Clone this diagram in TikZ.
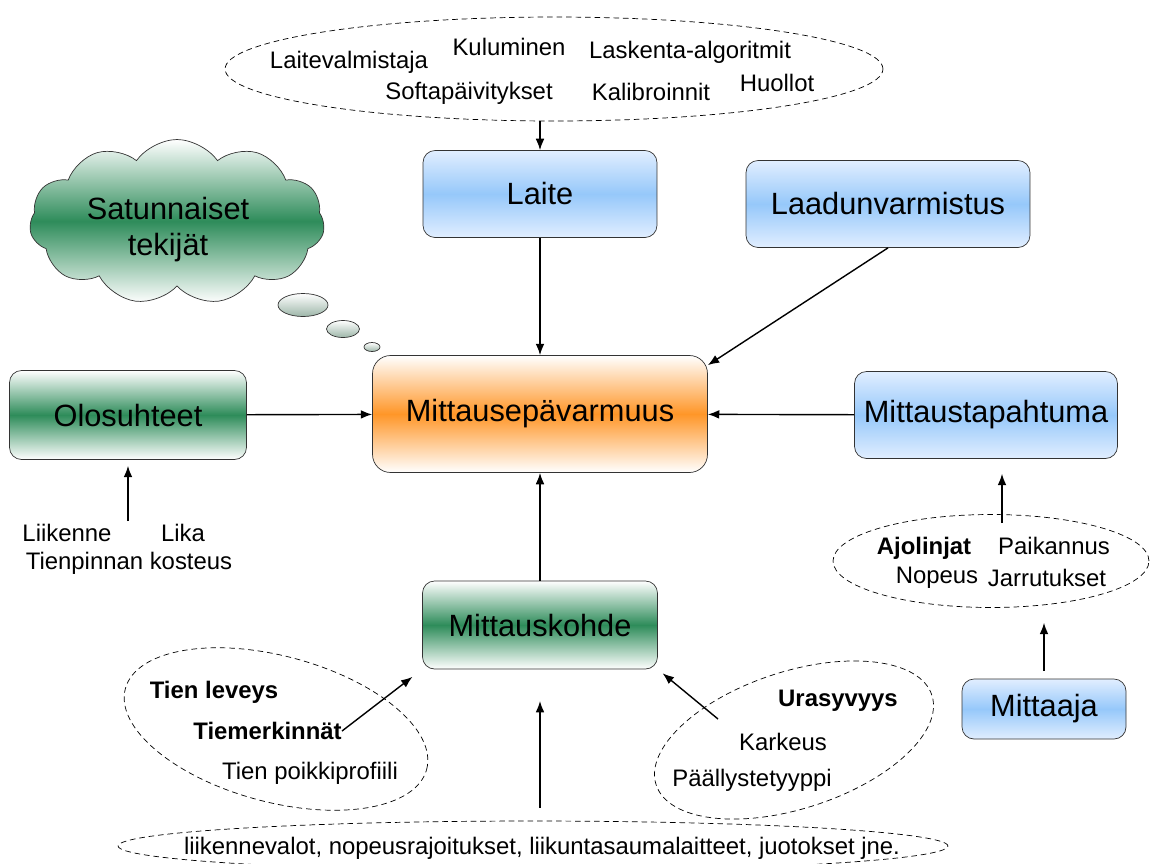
\documentclass[tikz,border=0pt]{standalone}
\usepackage{fontspec}
\setmainfont{Liberation Sans}
\usepackage{tikz}
\definecolor{lightblue}{RGB}{150,200,250}
\definecolor{paleblue}{RGB}{225,238,255}
\definecolor{darkgreen}{RGB}{46,140,90}
\definecolor{lightorange}{RGB}{255,150,40}
\usetikzlibrary{arrows.meta}
\usetikzlibrary{shapes}
\usetikzlibrary{positioning}

\begin{document}
\begin{tikzpicture}[x=0.02cm, y=-0.02cm]
        \tikzset{every node/.style={inner sep=0pt},
                bigtxt/.style={font=\fontsize{17.5}{20.5}\selectfont},
                txt/.style={font=\fontsize{13.6}{16}\selectfont},
                boldtxt/.style={font=\fontsize{13.6}{16}\selectfont\bfseries},
                box/.style={draw=black!80, rounded corners=0.24cm, bigtxt},
                bluebox/.style={box, top color=paleblue, bottom color=paleblue, middle color=lightblue},
                greenbox/.style={box, top color=white, bottom color=white, middle color=darkgreen},
                factors/.style={ellipse, draw=black, thin, dash pattern=on 3.2pt off 2.2pt},
                bubble/.style={ellipse, draw=black!80, top color=white, bottom color=darkgreen!45!gray!60},
                >={Latex[length=6.5pt,width=5pt]},
                every edge/.style={draw=black, line width=0.8pt}}

        \useasboundingbox (0,0) rectangle (1152,863);

        % laatikot
        \node[bluebox, minimum width=4.68cm, minimum height=1.74cm] (1) at (540,194) {Laite};
        \node[bluebox, minimum width=5.68cm, minimum height=1.74cm] (2) at (888,204) {Laadunvarmistus};
        \node[box, rounded corners=0.36cm, top color=white, bottom color=white, middle color=lightorange,
              minimum width=6.7cm, minimum height=2.34cm] (3) at (540,414) {Mittausepävarmuus};
        \node[greenbox, minimum width=4.74cm, minimum height=1.78cm] (4) at (128,415) {Olosuhteet};
        \node[bluebox, minimum width=5.26cm, minimum height=1.74cm] (5) at (986,415) {Mittaustapahtuma};
        \node[greenbox, minimum width=4.7cm, minimum height=1.76cm] (6) at (540,625) {Mittauskohde};
        \node[bluebox, minimum width=3.28cm, minimum height=1.2cm] (7) at (1044,709) {Mittaaja};

        % pilvi
        \node[cloud, cloud puffs=11, cloud puff arc=110, cloud ignores aspect, draw=black!80,
              top color=white, bottom color=white, middle color=darkgreen,
              minimum width=5.9cm, minimum height=3.3cm] (8) at (177,222) {};
        \node[bigtxt, align=center] (9) at (168,230) {Satunnaiset\\tekijät};
        \node[bubble, minimum width=1.0cm, minimum height=0.46cm] (b1) at (303,305) {};
        \node[bubble, minimum width=0.66cm, minimum height=0.34cm] (b2) at (343,329) {};
        \node[bubble, minimum width=0.32cm, minimum height=0.18cm] (b3) at (372,347) {};

        % tekijat
        \node[factors, minimum width=13.16cm, minimum height=2.08cm] (e1) at (554,69) {};
        \node[factors, minimum width=6.24cm, minimum height=2.92cm, rotate=-15] (e2) at (276,729) {};
        \node[factors, minimum width=5.8cm, minimum height=2.74cm, rotate=18] (e3) at (794,740) {};
        \node[factors, minimum width=6.32cm, minimum height=1.86cm] (e4) at (991,561) {};
        \node[factors, minimum width=16.6cm, minimum height=1.0cm] (e5) at (533,846) {};

        \node[txt] (l1) at (349,62) {Laitevalmistaja};
        \node[txt] (l2) at (509,47) {Kuluminen};
        \node[txt] (l3) at (690,52) {Laskenta-algoritmit};
        \node[txt] (l4) at (469,93) {Softapäivitykset};
        \node[txt] (l5) at (651,92) {Kalibroinnit};
        \node[txt] (l6) at (777,83) {Huollot};

        \node[txt] (o1) at (67,533) {Liikenne};
        \node[txt] (o2) at (183,533) {Lika};
        \node[txt] (o3) at (129,563) {Tienpinnan kosteus};

        \node[boldtxt] (k1) at (214,692) {Tien leveys};
        \node[boldtxt, anchor=east] (k2) at (342,731) {Tiemerkinnät};
        \node[txt] (k3) at (310,773) {Tien poikkiprofiili};

        \node[boldtxt] (u1) at (838,701) {Urasyvyys};
        \node[txt] (u2) at (783,742) {Karkeus};
        \node[txt] (u3) at (752,780) {Päällystetyyppi};

        \node[boldtxt] (a1) at (924,548) {Ajolinjat};
        \node[txt] (a2) at (1054,546) {Paikannus};
        \node[txt] (a3) at (937,578) {Nopeus};
        \node[txt] (a4) at (1047,578) {Jarrutukset};

        \node[txt] (m1) at (542,848) {liikennevalot, nopeusrajoitukset, liikuntasaumalaitteet, juotokset jne.};

        \coordinate (c1) at (128,521);
        \coordinate (c2) at (1002,523);
        \coordinate (c3) at (718,719);

        \path [->] (e1.south -| 1.north) edge (1.north);
        \path [->] (1) edge (3);
        \path [->] (2.south) edge ([yshift=-5.7pt]3.north east);
        \path [->] (4) edge (3);
        \path [->] (5) edge (3);
        \path [->] (6) edge (3);
        \path [->] (c1) edge[shorten >=3.4pt] (4.south);
        \path [->] (c2) edge[shorten >=8.5pt] (c2 |- 5.south);
        \path [->] (7.north) edge[shorten <=4.5pt, shorten >=8.5pt] (7.north |- e4.south);
        \path [->] (e5.north -| 6.south) edge[shorten <=7.4pt, shorten >=18pt] (6.south);
        \path [->] (k2.east) edge[shorten >=7pt] (6.south west);
        \path [->] (c3) edge[shorten >=3.5pt] (6.south east);

    \end{tikzpicture}
\end{document}
